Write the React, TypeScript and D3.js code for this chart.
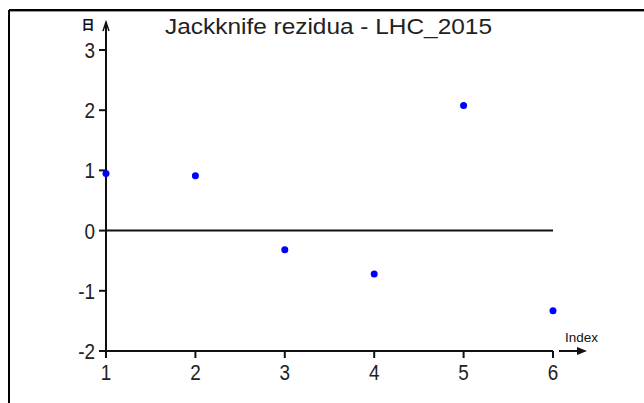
import React from "react";
import * as d3 from "d3";

// Jackknife residuals by observation index
const indices = [1, 2, 3, 4, 5, 6];
const residuals = [0.95, 0.91, -0.32, -0.72, 2.08, -1.33];
const xTicks = [1, 2, 3, 4, 5, 6];
const yTicks = [-2, -1, 0, 1, 2, 3];
const title = "Jackknife rezidua - LHC_2015";
const xLabel = "Index";
const yLabel = "日";

const W = 644;
const H = 403;
const FONT = "'Liberation Sans', Arial, sans-serif";

// Tick label drawn in a slightly condensed face
function TickLabel({ x, y, anchor, children }: { x: number; y: number; anchor: string; children: React.ReactNode }) {
  return (
    <text
      transform={`translate(${x},${y}) scale(0.86,1)`}
      dy="0.36em"
      textAnchor={anchor}
      fontFamily={FONT}
      fontSize={22}
      fill="#222"
    >
      {children}
    </text>
  );
}

export default function App() {
  const x = d3.scaleLinear().domain([1, 6]).range([106, 553]);
  const y = d3.scaleLinear().domain([-2, 3]).range([351, 50]);
  const x0 = x(1);
  const y0 = y(-2);

  return (
    <svg
      width={W}
      height={H}
      style={{ position: "absolute", left: 0, top: 0, display: "block", background: "#fff" }}
    >
      <rect x={0} y={0} width={W} height={H} fill="#fff" />
      {/* outer frame */}
      <line x1={9} y1={10} x2={W} y2={10} stroke="#000" strokeWidth={2} />
      <line x1={9} y1={11.5} x2={W} y2={11.5} stroke="#999" strokeWidth={1} />
      <line x1={9} y1={10} x2={9} y2={H} stroke="#000" strokeWidth={2} />

      {/* title */}
      <text
        x={165}
        y={34}
        fontFamily={FONT}
        fontSize={22}
        fill="#222"
        textLength={327}
        lengthAdjust="spacingAndGlyphs"
      >
        {title}
      </text>

      {/* y axis with arrow */}
      <line x1={x0} y1={y0} x2={x0} y2={22} stroke="#111" strokeWidth={2} />
      <polyline
        points={`${x0 - 3},31 ${x0},22 ${x0 + 3},31`}
        fill="none"
        stroke="#111"
        strokeWidth={1.5}
      />
      <text
        x={88}
        y={29}
        fontFamily="'Noto Sans CJK SC', sans-serif"
        fontSize={13}
        fontWeight="bold"
        textAnchor="middle"
        fill="#111"
      >
        {yLabel}
      </text>

      {/* x axis */}
      <line x1={x0} y1={y0} x2={x(6)} y2={y0} stroke="#111" strokeWidth={2} />
      <line x1={559} y1={y0} x2={580} y2={y0} stroke="#111" strokeWidth={2} />
      <polygon points={`577,${y0 - 4} 587,${y0} 577,${y0 + 4}`} fill="#111" />
      <text
        x={565}
        y={342}
        fontFamily={FONT}
        fontSize={13}
        fill="#111"
        textLength={33}
        lengthAdjust="spacingAndGlyphs"
      >
        {xLabel}
      </text>

      {/* zero reference line */}
      <line x1={x0} y1={y(0)} x2={x(6)} y2={y(0)} stroke="#111" strokeWidth={2} />

      {/* y ticks */}
      {yTicks.map((t) => (
        <g key={"y" + t}>
          <line x1={x0 - 7} y1={y(t)} x2={x0} y2={y(t)} stroke="#111" strokeWidth={2} />
          <TickLabel x={95} y={y(t)} anchor="end">
            {t < 0 ? "-" + Math.abs(t) : t}
          </TickLabel>
        </g>
      ))}

      {/* x ticks */}
      {xTicks.map((t) => (
        <g key={"x" + t}>
          <line x1={x(t)} y1={y0} x2={x(t)} y2={y0 + 7} stroke="#111" strokeWidth={2} />
          <TickLabel x={x(t)} y={372} anchor="middle">
            {t}
          </TickLabel>
        </g>
      ))}

      {/* residual points */}
      {indices.map((d, i) => (
        <circle key={d} cx={x(d)} cy={y(residuals[i])} r={3.5} fill="#0000ff" />
      ))}
    </svg>
  );
}
